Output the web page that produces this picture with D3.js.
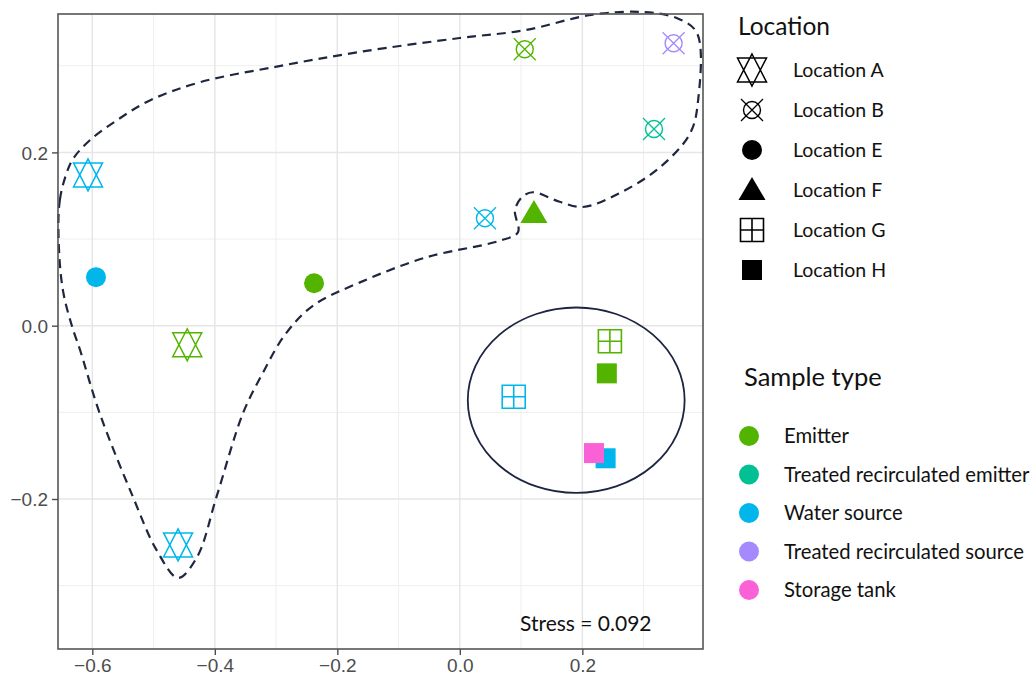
<!DOCTYPE html>
<html>
<head>
<meta charset="utf-8">
<script src="https://cdn.jsdelivr.net/npm/d3@7"></script>
<style>
  body { margin: 0; background: #ffffff; }
</style>
</head>
<body>
<div id="canvas"></div>
<script>
// DATA
const locations = ["Location A", "Location B", "Location E", "Location F", "Location G", "Location H"];
const sampleTypes = ["Emitter", "Treated recirculated emitter", "Water source", "Treated recirculated source", "Storage tank"];
const typeColors = ["#53B400", "#00C094", "#00B6EB", "#A58AFF", "#FB61D7"];

const pointLocation = ["Location A", "Location A", "Location A", "Location B", "Location B", "Location B", "Location B",
  "Location E", "Location E", "Location F", "Location G", "Location G", "Location H", "Location H", "Location H"];
const pointType = ["Water source", "Emitter", "Water source", "Emitter", "Treated recirculated source",
  "Treated recirculated emitter", "Water source", "Water source", "Emitter", "Emitter", "Emitter",
  "Water source", "Emitter", "Water source", "Storage tank"];
const nmds1 = [-0.607, -0.445, -0.460, 0.106, 0.349, 0.317, 0.041, -0.594, -0.238, 0.121, 0.245, 0.088, 0.240, 0.238, 0.219];
const nmds2 = [0.174, -0.022, -0.253, 0.319, 0.326, 0.227, 0.124, 0.056, 0.049, 0.130, -0.018, -0.082, -0.055, -0.153, -0.147];

const xTicks = [-0.6, -0.4, -0.2, 0.0, 0.2];
const yTicks = [-0.2, 0.0, 0.2];
const xMinor = [-0.5, -0.3, -0.1, 0.1, 0.3];
const yMinor = [-0.3, -0.1, 0.1, 0.3];

// dashed hull (data units)
const hullX = [-0.655, -0.653, -0.641, -0.630, -0.604, -0.560, -0.506, -0.424, -0.299, -0.163, 0.000, 0.106,
  0.217, 0.299, 0.354, 0.387, 0.389, 0.376, 0.327, 0.261, 0.201, 0.163, 0.119, 0.101, 0.090, 0.095, 0.065,
  -0.054, -0.163, -0.240, -0.286, -0.322, -0.354, -0.397, -0.429, -0.460, -0.495, -0.534, -0.588, -0.620,
  -0.633, -0.648];
const hullY = [0.099, 0.145, 0.178, 0.194, 0.214, 0.237, 0.260, 0.281, 0.299, 0.316, 0.332, 0.341,
  0.359, 0.362, 0.355, 0.338, 0.260, 0.222, 0.183, 0.153, 0.137, 0.143, 0.154, 0.148, 0.133, 0.108, 0.098,
  0.079, 0.050, 0.023, -0.011, -0.055, -0.101, -0.197, -0.267, -0.291, -0.259, -0.197, -0.101, -0.028,
  -0.001, 0.041];

const ellipseCenter = [0.190, -0.086];
const ellipseRadii = [0.177, 0.107];
const stressValue = 0.092;

// DIMENSIONS
const width = 1033;
const height = 681;
const panel = { left: 58, right: 703, top: 14, bottom: 649 };

const canvas = d3.select("#canvas")
  .append("svg")
  .attr("width", width)
  .attr("height", height)
  .style("background", "#ffffff");

// SCALES
const x = d3.scaleLinear().domain([-0.656, 0.397]).range([panel.left, panel.right]);
const y = d3.scaleLinear().domain([-0.3731, 0.3597]).range([panel.bottom, panel.top]);
const color = d3.scaleOrdinal().domain(sampleTypes).range(typeColors);

// GRID
const grid = canvas.append("g");
grid.selectAll("line.vminor").data(xMinor).join("line")
  .attr("x1", d => x(d)).attr("x2", d => x(d))
  .attr("y1", panel.top).attr("y2", panel.bottom)
  .attr("stroke", "#ececec").attr("stroke-width", 0.9);
grid.selectAll("line.hminor").data(yMinor).join("line")
  .attr("y1", d => y(d)).attr("y2", d => y(d))
  .attr("x1", panel.left).attr("x2", panel.right)
  .attr("stroke", "#ececec").attr("stroke-width", 0.9);
grid.selectAll("line.vmajor").data(xTicks).join("line")
  .attr("x1", d => x(d)).attr("x2", d => x(d))
  .attr("y1", panel.top).attr("y2", panel.bottom)
  .attr("stroke", "#e6e6e6").attr("stroke-width", 1.5);
grid.selectAll("line.hmajor").data(yTicks).join("line")
  .attr("y1", d => y(d)).attr("y2", d => y(d))
  .attr("x1", panel.left).attr("x2", panel.right)
  .attr("stroke", "#e6e6e6").attr("stroke-width", 1.5);

// AXES
const fmt = d3.format(".1f");
const xAxis = canvas.append("g")
  .attr("transform", `translate(0,${panel.bottom})`)
  .call(d3.axisBottom(x).tickValues(xTicks).tickFormat(fmt).tickSize(6).tickSizeOuter(0).tickPadding(4));
const yAxis = canvas.append("g")
  .attr("transform", `translate(${panel.left},0)`)
  .call(d3.axisLeft(y).tickValues(yTicks).tickFormat(fmt).tickSize(6).tickSizeOuter(0).tickPadding(4));
[xAxis, yAxis].forEach(a => {
  a.select(".domain").remove();
  a.selectAll(".tick line").attr("stroke", "#4d4d4d").attr("stroke-width", 1.4);
  a.selectAll(".tick text")
    .attr("fill", "#4d4d4d")
    .style("font-family", "'Liberation Sans', Arial, sans-serif")
    .style("font-size", "19px");
});
yAxis.selectAll(".tick text").attr("dy", "0.36em");

// HULL & ELLIPSE
const hullPts = hullX.map((d, i) => [x(d), y(hullY[i])]);
canvas.append("path")
  .attr("d", d3.line().curve(d3.curveCatmullRomClosed.alpha(0.5))(hullPts))
  .attr("fill", "none")
  .attr("stroke", "#1f2740")
  .attr("stroke-width", 2.2)
  .attr("stroke-dasharray", "9,6");

canvas.append("ellipse")
  .attr("cx", x(ellipseCenter[0]))
  .attr("cy", y(ellipseCenter[1]))
  .attr("rx", x(ellipseCenter[0] + ellipseRadii[0]) - x(ellipseCenter[0]))
  .attr("ry", y(ellipseCenter[1]) - y(ellipseCenter[1] + ellipseRadii[1]))
  .attr("fill", "none")
  .attr("stroke", "#1c2541")
  .attr("stroke-width", 1.8);

// SHAPES
function drawShape(g, loc, col) {
  if (loc === "Location A") {
    g.append("path").attr("d", "M0,-16L14.5,12L-14.5,12Z M0,16L14.5,-12L-14.5,-12Z")
      .attr("fill", "none").attr("stroke", col).attr("stroke-width", 1.5);
  } else if (loc === "Location B") {
    g.append("circle").attr("r", 8.5).attr("fill", "none").attr("stroke", col).attr("stroke-width", 1.4);
    g.append("path").attr("d", "M-11,-11L11,11M-11,11L11,-11")
      .attr("stroke", col).attr("stroke-width", 1.3);
  } else if (loc === "Location E") {
    g.append("circle").attr("r", 10).attr("fill", col);
  } else if (loc === "Location F") {
    g.append("path").attr("d", "M0,-13L13.5,10L-13.5,10Z").attr("fill", col);
  } else if (loc === "Location G") {
    g.append("path").attr("d", "M-11.5,-11.5H11.5V11.5H-11.5Z M0,-11.5V11.5 M-11.5,0H11.5")
      .attr("fill", "none").attr("stroke", col).attr("stroke-width", 1.6);
  } else {
    g.append("rect").attr("x", -10).attr("y", -10).attr("width", 20).attr("height", 20).attr("fill", col);
  }
}

// POINTS
const points = nmds1.map((d, i) => ({ x: d, y: nmds2[i], loc: pointLocation[i], type: pointType[i] }));
canvas.append("g").selectAll("g.pt")
  .data(points)
  .join("g")
  .attr("class", "pt")
  .attr("transform", d => `translate(${x(d.x)},${y(d.y)})`)
  .each(function (d) { drawShape(d3.select(this), d.loc, color(d.type)); });

// PANEL BORDER
canvas.append("rect")
  .attr("x", panel.left).attr("y", panel.top)
  .attr("width", panel.right - panel.left).attr("height", panel.bottom - panel.top)
  .attr("fill", "none").attr("stroke", "#555555").attr("stroke-width", 1.6);

// STRESS LABEL
const legendFont = "Lato, 'Open Sans', sans-serif";
canvas.append("text")
  .attr("x", 520).attr("y", 631)
  .style("font-family", legendFont).style("font-size", "21px").attr("fill", "#111")
  .text(`Stress = ${stressValue.toFixed(3)}`);

// LEGEND: LOCATION
const leg1 = canvas.append("g");
leg1.append("text").attr("x", 738).attr("y", 35)
  .style("font-family", legendFont).style("font-size", "24.5px").attr("fill", "#111")
  .text("Location");
const locItems = leg1.selectAll("g.loc").data(locations).join("g")
  .attr("class", "loc")
  .attr("transform", (d, i) => `translate(0,${70 + i * 40})`);
locItems.each(function (d) {
  const g = d3.select(this).append("g").attr("transform", "translate(752,0)");
  drawShape(g, d, "#000");
});
locItems.append("text").attr("x", 793).attr("y", 0).attr("dy", "0.35em")
  .style("font-family", legendFont).style("font-size", "19.5px").attr("fill", "#111")
  .text(d => d);

// LEGEND: SAMPLE TYPE
const leg2 = canvas.append("g");
leg2.append("text").attr("x", 744).attr("y", 386)
  .style("font-family", legendFont).style("font-size", "25.5px").attr("fill", "#111")
  .text("Sample type");
const typeItems = leg2.selectAll("g.typ").data(sampleTypes).join("g")
  .attr("class", "typ")
  .attr("transform", (d, i) => `translate(0,${436 + i * 38.5})`);
typeItems.append("circle").attr("cx", 749).attr("r", 10).attr("fill", d => color(d));
typeItems.append("text").attr("x", 784).attr("dy", "0.35em")
  .style("font-family", legendFont).style("font-size", "20.3px").attr("fill", "#111")
  .text(d => d);
</script>
</body>
</html>
